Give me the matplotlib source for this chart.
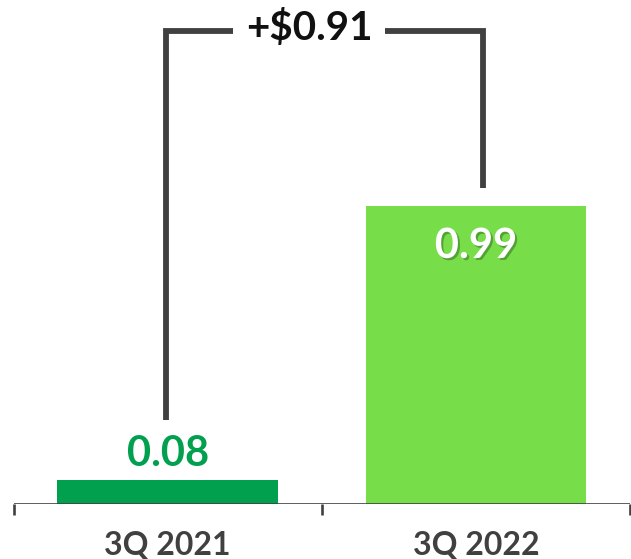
import matplotlib
matplotlib.use("Agg")
import matplotlib.pyplot as plt
import matplotlib.patheffects as pe

categories = ["3Q 2021", "3Q 2022"]
values = [0.08, 0.99]
bar_colors = ["#00A04F", "#77DD49"]
change_label = "+$0.91"

plt.rcParams["font.family"] = ["Lato", "DejaVu Sans"]

W, H = 631, 559
fig = plt.figure(figsize=(W / 100, H / 100), dpi=100)
ax = fig.add_axes([13.5 / W, 55 / H, 616.5 / W, 504 / H])

x = list(range(len(categories)))
ax.bar(x, values, width=0.715, color=bar_colors, zorder=2)

ax.set_xlim(-0.5, 1.5)
ax.set_ylim(0, 504 / 301.5)

# baseline with category separators
ax.axhline(0, color="#404040", lw=1.9, zorder=3)
for xt in [-0.5, 0.5, 1.5]:
    ax.plot([xt, xt], [0, -0.038], color="#404040", lw=1.9,
            clip_on=False, solid_capstyle="butt", zorder=3)

for s in ax.spines.values():
    s.set_visible(False)
ax.set_xticks([])
ax.set_yticks([])

# category labels
for xi, c in zip(x, categories):
    ax.text(xi, -0.136, c, ha="center", va="center", fontsize=23,
            fontweight="bold", color="#404040", clip_on=False)

# value labels
ax.text(x[0], values[0] + 0.086, f"{values[0]:.2f}", ha="center", va="center",
        fontsize=30, fontweight="bold", color=bar_colors[0])
ax.text(x[1], values[1] - 0.134, f"{values[1]:.2f}", ha="center", va="center",
        fontsize=30, fontweight="bold", color="white",
        path_effects=[pe.withSimplePatchShadow(offset=(1.5, -1.5),
                                               shadow_rgbFace="#2a5a20",
                                               alpha=0.45)])

# change bracket
lx, rx = -0.005, 1.023
ly, ry = 0.28, 1.048
top = 1.569
gap_l, gap_r = (233 - 13.5) / 308 - 0.5, (385 - 13.5) / 308 - 0.5
line_kw = dict(color="#404040", lw=4.2, solid_capstyle="butt",
               solid_joinstyle="miter", zorder=3)
ax.plot([lx, lx, gap_l], [ly, top, top], **line_kw)
ax.plot([gap_r, rx, rx], [top, top, ry], **line_kw)
ax.text((gap_l + gap_r) / 2, top + 0.01, change_label, ha="center", va="center",
        fontsize=29, fontweight="bold", color="#111111")

fig.savefig("out.png", dpi=100)
